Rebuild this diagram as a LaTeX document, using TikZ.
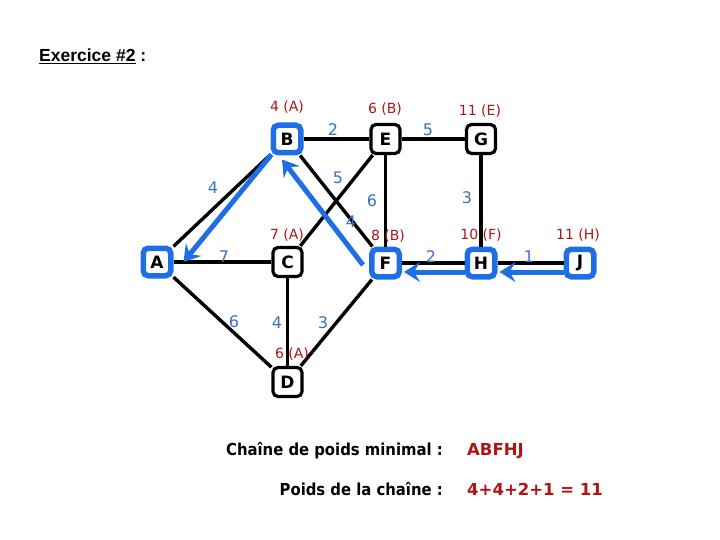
\documentclass[tikz,border=0pt]{standalone}
\usepackage{fontspec}
\setmainfont{DejaVu Sans}
\newfontfamily\arialfont{Liberation Sans}
\newfontfamily\condfont{DejaVu Sans Condensed}
\usetikzlibrary{arrows.meta,calc}
\definecolor{pathblue}{RGB}{30,110,230}
\definecolor{wblue}{RGB}{60,110,200}
\definecolor{lred}{RGB}{175,20,20}
\begin{document}
\begin{tikzpicture}[x=1pt,y=-1pt,
 vtx/.style={draw=black,line width=3.2pt,rounded corners=5pt,fill=white,minimum width=29pt,minimum height=29pt,inner sep=0pt,font=\fontsize{17}{17}\selectfont\bfseries},
 pvtx/.style={vtx,draw=pathblue,line width=5.5pt,minimum width=27.5pt,minimum height=27.5pt},
 edge/.style={line width=3.4pt,black},
 parrow/.style={line width=5pt,pathblue,-{Stealth[length=16pt,width=20pt,inset=6pt]}},
 wt/.style={text=wblue,inner sep=0pt,font=\fontsize{16}{16}\selectfont},
 lab/.style={text=lred,inner sep=0pt,font=\fontsize{14}{14}\selectfont},
 txt/.style={inner sep=0pt,font=\condfont\fontsize{16.5}{17}\selectfont\bfseries},
 rtxt/.style={inner sep=0pt,text=lred,font=\fontsize{16.5}{17}\selectfont\bfseries},
]
\useasboundingbox (0,0) rectangle (720,540);
% vertices
\node[pvtx] (A) at (157,262) {A};
\node[pvtx] (B) at (287,139) {B};
\node[vtx]  (C) at (287.5,262) {C};
\node[vtx]  (D) at (287.5,382) {D};
\node[vtx]  (E) at (385.5,139) {E};
\node[pvtx] (F) at (385.5,263) {F};
\node[vtx]  (G) at (481,139) {G};
\node[pvtx] (H) at (481,263) {H};
\node[pvtx] (J) at (580,263) {J};
% edges
\draw[edge] (A) -- (B);
\draw[edge] (A) -- (C);
\draw[edge] (A) -- (D);
\draw[edge] (B) -- (E);
\draw[edge] (B) -- (F);
\draw[edge] (C) -- (E);
\draw[edge] (C) -- (D);
\draw[edge] (D) -- (F);
\draw[edge] (E) -- (F);
\draw[edge] (E) -- (G);
\draw[edge] (G) -- (H);
\draw[edge] (F) -- (H);
\draw[edge] (H) -- (J);
% path arrows
\draw[parrow] ([xshift=1pt,yshift=1pt]B.south west) -- ([xshift=10pt]A.east);
\draw[parrow] ([xshift=-6pt,yshift=-2pt]F.west) -- ([xshift=-5pt,yshift=-4pt]B.south);
\draw[parrow] ([yshift=-9pt]H.west) -- ([xshift=2pt,yshift=-9pt]F.east);
\draw[parrow] ([yshift=-9pt]J.west) -- ([xshift=2pt,yshift=-9pt]H.east);
% weights
\node[wt] (wAB) at (213,188) {4};
\node[wt] (wAC) at (224,257) {7};
\node[wt] (wAD) at (234,322) {6};
\node[wt] (wCD) at (277,323) {4};
\node[wt] (wDF) at (323,323) {3};
\node[wt] (wBE) at (333,130) {2};
\node[wt] (wCE) at (338,178) {5};
\node[wt] (wEF) at (372,201) {6};
\node[wt] (wBF) at (351,222) {4};
\node[wt] (wEG) at (428,130) {5};
\node[wt] (wGH) at (467,198) {3};
\node[wt] (wFH) at (431,257) {2};
\node[wt] (wHJ) at (529,257) {1};
% labels
\node[lab] (lB) at (287,107) {4 (A)};
\node[lab] (lE) at (385,109) {6 (B)};
\node[lab] (lG) at (480,111) {11 (E)};
\node[lab] (lC) at (287,235) {7 (A)};
\node[lab] (lF) at (388,236) {8 (B)};
\node[lab] (lH) at (481,235) {10 (F)};
\node[lab] (lJ) at (578,235) {11 (H)};
\node[lab] (lD) at (292,354) {6 (A)};
% title
\node[anchor=base west,inner sep=0pt,font=\arialfont\bfseries\fontsize{17.5}{18}\selectfont] (title) at (39,62) {\underline{Exercice \#2} :};
% result text
\node[txt,anchor=base east] (t1) at (443,455) {Chaîne de poids minimal :};
\node[rtxt,anchor=base west] (r1) at (467,455) {ABFHJ};
\node[txt,anchor=base east] (t2) at (443,495) {Poids de la chaîne :};
\node[rtxt,anchor=base west] (r2) at (467,495) {4+4+2+1 = 11};
\end{tikzpicture}
\end{document}
